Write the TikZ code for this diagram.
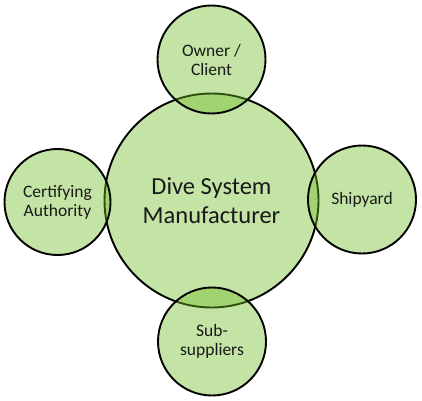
\documentclass[tikz,border=0pt]{standalone}
\usepackage{fontspec}
\setmainfont{Carlito}
\definecolor{dgreen}{RGB}{112,190,40}
\begin{document}
\begin{tikzpicture}[x=1pt,y=-1pt,
  bub/.style={circle, draw=black, line width=1.9pt, fill=dgreen, fill opacity=0.42,
    text opacity=1, text=black!90, align=center, inner sep=0pt},
  sat/.style={bub, minimum size=108pt, font=\fontsize{17.5}{19}\selectfont},
 ]
\useasboundingbox (0,0) rectangle (422,400);
\node[bub, minimum size=214pt, font=\fontsize{24.5}{29}\selectfont] (dsm) at (211.5,200.5) {Dive System\\Manufacturer};
\node[sat] (owner) at (211.5,59.5) {Owner /\\Client};
\node[sat, minimum size=106pt] (cert) at (57.5,202) {Certifying\\Authority};
\node[sat] (ship) at (362,199.5) {Shipyard};
\node[sat] (sub) at (212,341.5) {Sub-\\suppliers};
\end{tikzpicture}
\end{document}
